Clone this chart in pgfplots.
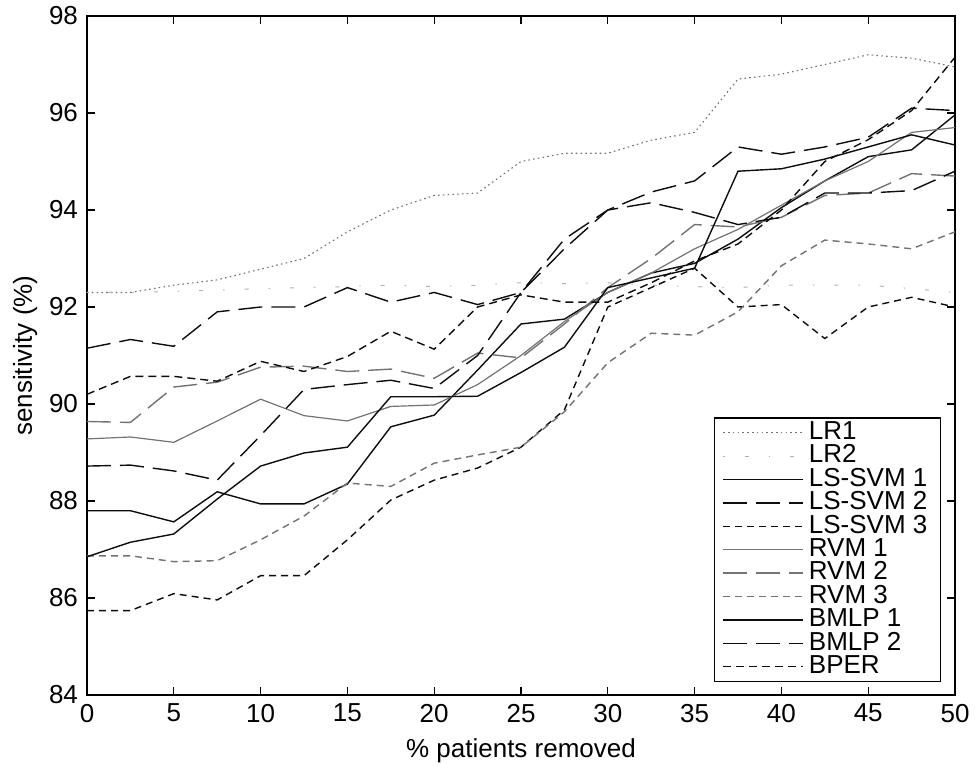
\documentclass[border=0pt]{standalone}
\usepackage{fontspec}
\setmainfont{Liberation Sans}
\usepackage{pgfplots}
\pgfplotsset{compat=1.18}

% line colours of the scanned figure
\definecolor{darkline}{gray}{0.05}
\definecolor{greyline}{gray}{0.45}
\definecolor{paleline}{gray}{0.7}

\pgfplotstableread{
x    lrA   lrB   lsA   lsB   lsC   rvA   rvB   rvC   bmA   bmB   bper
0    92.30 92.30 87.80 91.15 85.74 89.28 89.64 86.87 86.85 88.72 90.20
2.5  92.30 92.30 87.80 91.33 85.74 89.32 89.62 86.87 87.15 88.74 90.57
5    92.45 92.32 87.57 91.19 86.09 89.21 90.35 86.75 87.32 88.62 90.57
7.5  92.56 92.35 88.19 91.90 85.96 89.65 90.45 86.77 88.04 88.43 90.47
10   92.78 92.38 87.94 92.00 86.46 90.10 90.76 87.20 88.72 89.35 90.88
12.5 93.00 92.40 87.94 92.00 86.46 89.76 90.78 87.69 88.99 90.30 90.67
15   93.55 92.42 88.35 92.40 87.20 89.65 90.67 88.37 89.11 90.40 90.98
17.5 94.00 92.45 89.53 92.10 88.02 89.95 90.72 88.30 90.15 90.49 91.50
20   94.30 92.42 89.77 92.30 88.43 89.98 90.53 88.78 90.15 90.32 91.13
22.5 94.35 92.45 90.70 92.05 88.68 90.40 91.05 88.95 90.16 91.00 92.00
25   95.00 92.50 91.65 92.30 89.11 91.00 90.95 89.11 90.65 92.30 92.25
27.5 95.17 92.48 91.75 93.20 89.88 91.70 91.65 89.84 91.17 93.40 92.10
30   95.17 92.50 92.30 94.00 92.00 92.30 92.40 90.85 92.40 94.00 92.10
32.5 95.44 92.45 92.70 94.37 92.40 92.70 93.00 91.46 92.60 94.15 92.50
35   95.60 92.42 92.90 94.60 92.80 93.20 93.70 91.42 92.80 93.95 92.95
37.5 96.70 92.40 93.40 95.30 92.00 93.60 93.65 91.90 94.80 93.70 93.30
40   96.80 92.45 94.05 95.15 92.05 94.10 93.85 92.85 94.85 93.85 94.00
42.5 97.00 92.45 94.60 95.30 91.35 94.60 94.30 93.38 95.05 94.35 95.00
45   97.20 92.45 95.10 95.50 92.00 95.00 94.35 93.30 95.30 94.35 95.45
47.5 97.13 92.38 95.24 96.10 92.20 95.60 94.75 93.20 95.55 94.40 96.05
50   96.95 92.30 95.96 96.05 92.00 95.70 94.70 93.55 95.34 94.80 97.15
}\sens

\begin{document}
\begin{tikzpicture}
\path[use as bounding box] (-43.5pt,-38.5pt) rectangle (445.5pt,347.5pt);
\begin{axis}[
  scale only axis, width=434pt, height=339.5pt,
  xmin=0, xmax=50, ymin=84, ymax=98,
  xtick={0,5,...,50}, ytick={84,86,...,98},
  tick pos=both, tick align=inside, major tick length=4pt,
  axis line style={line width=0.6pt}, every tick/.style={line width=0.6pt},
  font=\fontsize{13}{15}\selectfont,
  /pgf/number format/assume math mode=true,
  xlabel={\% patients removed}, ylabel={sensitivity (\%)},
  xticklabel style={yshift=-1pt}, yticklabel style={xshift=-1pt},
  xlabel style={yshift=-1pt}, ylabel style={yshift=-1pt},
  legend cell align=left,
  legend style={at={(1,0)}, anchor=south east, xshift=-7pt, yshift=6.5pt,
    draw=black, line width=0.6pt, row sep=0pt, inner xsep=4pt, inner ysep=1.5pt,
    nodes={inner ysep=0pt, inner xsep=2.5pt, text height=9.2pt, text depth=2.5pt,
      font=\fontsize{13}{15}\selectfont}},
  legend image code/.code={\draw[#1] (0pt,0pt) -- (40pt,0pt);},
  every axis plot/.append style={line width=0.7pt},
]
\addplot[greyline, line width=0.55pt, dash pattern=on 0.8pt off 1.6pt] table[x=x,y=lrA]{\sens};
\addlegendentry{LR1}
\addplot[paleline, line width=0.5pt, dash pattern=on 0.7pt off 10pt on 2pt off 10pt] table[x=x,y=lrB]{\sens};
\addlegendentry{LR2}
\addplot[darkline] table[x=x,y=lsA]{\sens};
\addlegendentry{LS-SVM 1}
\addplot[darkline, dash pattern=on 12pt off 4.5pt] table[x=x,y=lsB]{\sens};
\addlegendentry{LS-SVM 2}
\addplot[darkline, dash pattern=on 3.5pt off 2.5pt] table[x=x,y=lsC]{\sens};
\addlegendentry{LS-SVM 3}
\addplot[greyline, line width=0.6pt] table[x=x,y=rvA]{\sens};
\addlegendentry{RVM 1}
\addplot[greyline, dash pattern=on 12pt off 4.5pt] table[x=x,y=rvB]{\sens};
\addlegendentry{RVM 2}
\addplot[greyline, dash pattern=on 3.5pt off 2.5pt] table[x=x,y=rvC]{\sens};
\addlegendentry{RVM 3}
\addplot[darkline] table[x=x,y=bmA]{\sens};
\addlegendentry{BMLP 1}
\addplot[darkline, dash pattern=on 12pt off 4.5pt] table[x=x,y=bmB]{\sens};
\addlegendentry{BMLP 2}
\addplot[darkline, dash pattern=on 4pt off 2.5pt] table[x=x,y=bper]{\sens};
\addlegendentry{BPER}
\end{axis}
\end{tikzpicture}
\end{document}
